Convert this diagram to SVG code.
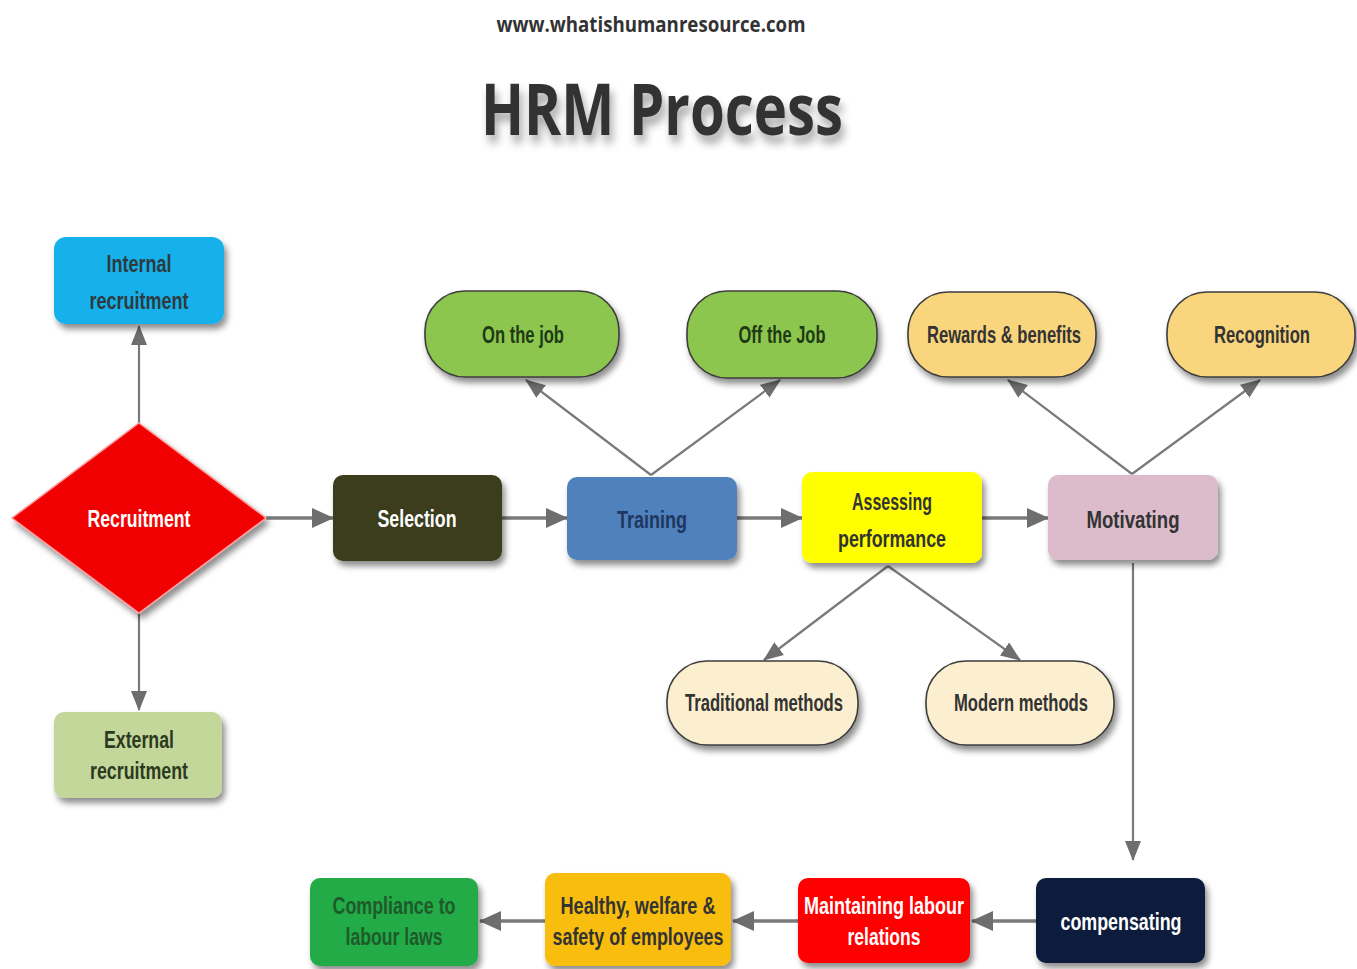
<svg xmlns="http://www.w3.org/2000/svg" width="1357" height="969" viewBox="0 0 1357 969">
<defs>
<filter id="sh" x="-20%" y="-20%" width="150%" height="160%"><feDropShadow dx="3" dy="5" stdDeviation="3" flood-color="#000" flood-opacity="0.45"/></filter>
<filter id="tsh" x="-10%" y="-30%" width="130%" height="180%"><feDropShadow dx="3" dy="8" stdDeviation="4" flood-color="#000" flood-opacity="0.35"/></filter>
<marker id="ah" viewBox="0 0 22 20" refX="21" refY="10" markerWidth="22" markerHeight="20" markerUnits="userSpaceOnUse" orient="auto"><path d="M0,0 L22,10 L0,20 Z" fill="#6e6e6e"/></marker>
<marker id="ahs" viewBox="0 0 20 16" refX="19" refY="8" markerWidth="20" markerHeight="16" markerUnits="userSpaceOnUse" orient="auto"><path d="M0,0 L20,8 L0,16 Z" fill="#6e6e6e"/></marker>
</defs>
<style>
.t{font-family:"Liberation Sans Narrow","Liberation Sans",Arial,sans-serif;font-weight:bold;font-size:24px;text-anchor:middle}
.pill{stroke:#3c3c3c;stroke-width:1.6}
.c{fill:none;stroke:#7a7a7a;stroke-width:2.2;marker-end:url(#ahs)}
.h{fill:none;stroke:#7a7a7a;stroke-width:3.5;marker-end:url(#ah)}
</style>
<rect width="1357" height="969" fill="#fff"/>
<text x="651" y="32" font-family="'Open Sans','DejaVu Sans',sans-serif" font-weight="bold" font-size="22" fill="#333" text-anchor="middle" textLength="309" lengthAdjust="spacingAndGlyphs">www.whatishumanresource.com</text>
<text x="662" y="135" font-family="'Open Sans','DejaVu Sans',sans-serif" font-weight="bold" font-size="72" fill="#333" text-anchor="middle" textLength="362" lengthAdjust="spacingAndGlyphs" filter="url(#tsh)">HRM Process</text>

<g id="connectors">
<path class="c" d="M139,423 L139,326"/>
<path class="c" d="M139,613 L139,710"/>
<path class="h" d="M266,518 L333,518"/>
<path class="h" d="M502,518 L567,518"/>
<path class="h" d="M737,518 L802,518"/>
<path class="h" d="M982,518 L1048,518"/>
<path class="c" d="M651,475 L526,380"/>
<path class="c" d="M651,475 L780,380"/>
<path class="c" d="M1132,474 L1008,380"/>
<path class="c" d="M1132,474 L1260,380"/>
<path class="c" d="M888,566 L764,660"/>
<path class="c" d="M888,566 L1020,660"/>
<path class="c" d="M1133,563 L1133,860"/>
<path class="h" d="M1036,921 L972,921"/>
<path class="h" d="M798,921 L733,921"/>
<path class="h" d="M545,921 L480,921"/>
</g>

<g id="internal"><rect x="54" y="237" width="170" height="87" rx="12" fill="#18b0ea" filter="url(#sh)"/><text class="t" x="139" y="272" fill="#2e3a40" textLength="65" lengthAdjust="spacingAndGlyphs">Internal</text><text class="t" x="139" y="309" fill="#2e3a40" textLength="99" lengthAdjust="spacingAndGlyphs">recruitment</text></g>
<g id="recruitment"><path d="M139,423 L266,518 L139,613 L12,518 Z" fill="#f00000" stroke="#ff9a9a" stroke-width="1.5" filter="url(#sh)"/><text class="t" x="139" y="527" fill="#fff" textLength="103" lengthAdjust="spacingAndGlyphs">Recruitment</text></g>
<g id="external"><rect x="54" y="712" width="168" height="86" rx="10" fill="#c4d79b" filter="url(#sh)"/><text class="t" x="139" y="748" fill="#2c3a22" textLength="70" lengthAdjust="spacingAndGlyphs">External</text><text class="t" x="139" y="779" fill="#2c3a22" textLength="98" lengthAdjust="spacingAndGlyphs">recruitment</text></g>
<g id="selection"><rect x="333" y="475" width="169" height="86" rx="10" fill="#3a3d1f" filter="url(#sh)"/><text class="t" x="417" y="527" fill="#fff" textLength="79" lengthAdjust="spacingAndGlyphs">Selection</text></g>
<g id="training"><rect x="567" y="477" width="170" height="83" rx="10" fill="#4f81bd" filter="url(#sh)"/><text class="t" x="652" y="528" fill="#1f3660" textLength="70" lengthAdjust="spacingAndGlyphs">Training</text></g>
<g id="assessing"><rect x="802" y="472" width="180" height="91" rx="10" fill="#ffff00" filter="url(#sh)"/><text class="t" x="892" y="510" fill="#333" textLength="80" lengthAdjust="spacingAndGlyphs">Assessing</text><text class="t" x="892" y="547" fill="#333" textLength="108" lengthAdjust="spacingAndGlyphs">performance</text></g>
<g id="motivating"><rect x="1048" y="475" width="170" height="85" rx="10" fill="#dcbccb" filter="url(#sh)"/><text class="t" x="1133" y="528" fill="#333" textLength="93" lengthAdjust="spacingAndGlyphs">Motivating</text></g>
<g id="onjob"><rect class="pill" x="425" y="291" width="194" height="86" rx="40" fill="#8dc64f" filter="url(#sh)"/><text class="t" x="523" y="343" fill="#1e3a14" textLength="82" lengthAdjust="spacingAndGlyphs">On the job</text></g>
<g id="offjob"><rect class="pill" x="687" y="291" width="190" height="87" rx="40" fill="#8dc64f" filter="url(#sh)"/><text class="t" x="782" y="343" fill="#1e3a14" textLength="87" lengthAdjust="spacingAndGlyphs">Off the Job</text></g>
<g id="rewards"><rect class="pill" x="908" y="292" width="188" height="85" rx="40" fill="#f9d57d" filter="url(#sh)"/><text class="t" x="1004" y="343" fill="#333" textLength="154" lengthAdjust="spacingAndGlyphs">Rewards &amp; benefits</text></g>
<g id="recognition"><rect class="pill" x="1167" y="292" width="188" height="85" rx="40" fill="#f9d57d" filter="url(#sh)"/><text class="t" x="1262" y="343" fill="#333" textLength="96" lengthAdjust="spacingAndGlyphs">Recognition</text></g>
<g id="traditional"><rect class="pill" x="667" y="661" width="191" height="84" rx="40" fill="#fcefcf" filter="url(#sh)"/><text class="t" x="764" y="711" fill="#333" textLength="158" lengthAdjust="spacingAndGlyphs">Traditional methods</text></g>
<g id="modern"><rect class="pill" x="926" y="661" width="188" height="84" rx="40" fill="#fcefcf" filter="url(#sh)"/><text class="t" x="1021" y="711" fill="#333" textLength="134" lengthAdjust="spacingAndGlyphs">Modern methods</text></g>
<g id="compensating"><rect x="1036" y="878" width="169" height="85" rx="10" fill="#0f1f3e" filter="url(#sh)"/><text class="t" x="1121" y="930" fill="#fff" textLength="121" lengthAdjust="spacingAndGlyphs">compensating</text></g>
<g id="maintaining"><rect x="798" y="878" width="172" height="85" rx="10" fill="#ff0000" filter="url(#sh)"/><text class="t" x="884" y="914" fill="#fff" textLength="160" lengthAdjust="spacingAndGlyphs">Maintaining labour</text><text class="t" x="884" y="945" fill="#fff" textLength="73" lengthAdjust="spacingAndGlyphs">relations</text></g>
<g id="healthy"><rect x="545" y="873" width="186" height="93" rx="10" fill="#f9bd0c" filter="url(#sh)"/><text class="t" x="638" y="914" fill="#333" textLength="155" lengthAdjust="spacingAndGlyphs">Healthy, welfare &amp;</text><text class="t" x="638" y="945" fill="#333" textLength="171" lengthAdjust="spacingAndGlyphs">safety of employees</text></g>
<g id="compliance"><rect x="310" y="878" width="168" height="88" rx="10" fill="#22ab47" filter="url(#sh)"/><text class="t" x="394" y="914" fill="#1e5a2a" textLength="123" lengthAdjust="spacingAndGlyphs">Compliance to</text><text class="t" x="394" y="945" fill="#1e5a2a" textLength="97" lengthAdjust="spacingAndGlyphs">labour laws</text></g>
</svg>
